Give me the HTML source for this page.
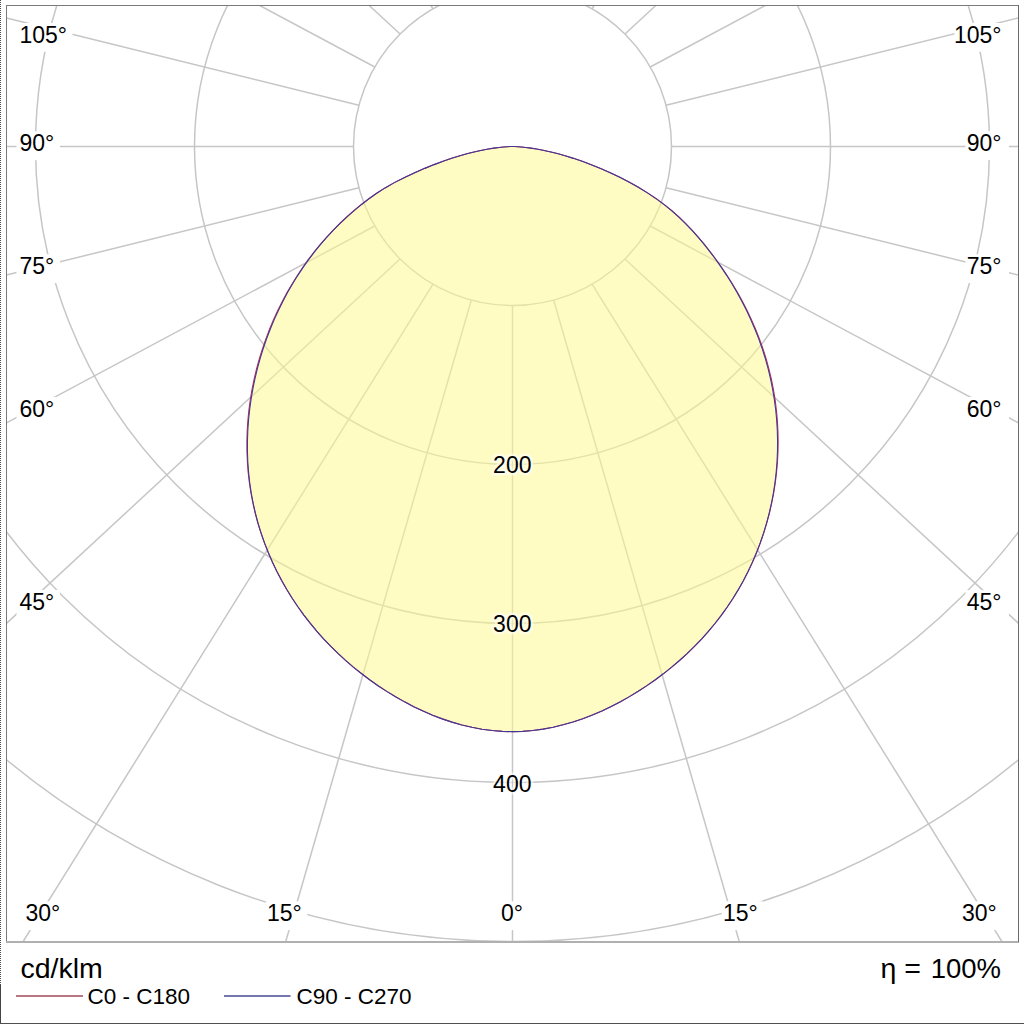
<!DOCTYPE html>
<html><head><meta charset="utf-8"><style>
html,body{margin:0;padding:0;background:#fff;width:1024px;height:1024px;overflow:hidden}
svg{display:block}
text{font-family:"Liberation Sans",sans-serif;font-size:23px;fill:#000}
text.v{stroke:#fff;stroke-width:5px;stroke-opacity:.6;paint-order:stroke;stroke-linejoin:round}
</style></head><body>
<svg width="1024" height="1024" viewBox="0 0 1024 1024">
<defs><clipPath id="fr"><rect x="6.5" y="5.5" width="1012.0" height="936.5"/></clipPath></defs>
<rect x="0" y="0" width="1024" height="1024" fill="#fff"/>
<g clip-path="url(#fr)">
<g fill="none" stroke="#c6c6c6" stroke-width="1.5">
<line x1="433.00" y1="8.80" x2="430.94" y2="5.50"/>
<line x1="400.07" y1="34.07" x2="369.21" y2="5.50"/>
<line x1="374.80" y1="67.00" x2="259.76" y2="5.50"/>
<line x1="358.92" y1="105.35" x2="6.50" y2="17.91"/>
<line x1="353.50" y1="146.50" x2="6.50" y2="146.50"/>
<line x1="358.92" y1="187.65" x2="6.50" y2="275.09"/>
<line x1="374.80" y1="226.00" x2="6.50" y2="422.89"/>
<line x1="400.07" y1="258.93" x2="6.50" y2="623.35"/>
<line x1="433.00" y1="284.20" x2="22.84" y2="942.00"/>
<line x1="471.35" y1="300.08" x2="285.59" y2="942.00"/>
<line x1="512.50" y1="305.50" x2="512.50" y2="942.00"/>
<line x1="553.65" y1="300.08" x2="739.41" y2="942.00"/>
<line x1="592.00" y1="284.20" x2="1002.16" y2="942.00"/>
<line x1="624.93" y1="258.93" x2="1018.50" y2="623.35"/>
<line x1="650.20" y1="226.00" x2="1018.50" y2="422.89"/>
<line x1="666.08" y1="187.65" x2="1018.50" y2="275.09"/>
<line x1="671.50" y1="146.50" x2="1018.50" y2="146.50"/>
<line x1="666.08" y1="105.35" x2="1018.50" y2="17.91"/>
<line x1="650.20" y1="67.00" x2="765.24" y2="5.50"/>
<line x1="624.93" y1="34.07" x2="655.79" y2="5.50"/>
<line x1="592.00" y1="8.80" x2="594.06" y2="5.50"/>
<circle cx="512.5" cy="146.5" r="159.0"/>
<circle cx="512.5" cy="146.5" r="318.0"/>
<circle cx="512.5" cy="146.5" r="477.0"/>
<circle cx="512.5" cy="146.5" r="636.0"/>
<circle cx="512.5" cy="146.5" r="795.0"/>
<circle cx="512.5" cy="146.5" r="954.0"/>
</g>
<polygon points="512.50,146.50 510.17,146.54 507.19,146.69 503.47,146.97 499.05,147.44 493.96,148.12 488.25,149.05 481.96,150.25 475.11,151.75 467.75,153.59 459.93,155.77 451.68,158.32 443.05,161.26 434.08,164.61 424.78,168.37 415.00,172.62 404.59,177.44 394.34,182.62 385.08,187.90 376.72,193.25 368.96,198.75 361.53,204.45 354.28,210.43 347.20,216.67 340.29,223.17 333.58,229.93 327.07,236.94 320.75,244.20 314.65,251.70 308.76,259.43 303.10,267.40 297.67,275.58 292.48,283.98 287.53,292.59 282.84,301.41 278.40,310.42 274.22,319.62 270.32,329.00 266.68,338.55 263.33,348.27 260.27,358.15 257.50,368.17 255.05,378.31 252.92,388.56 251.12,398.91 249.67,409.33 248.57,419.81 247.82,430.33 247.45,440.87 247.45,451.41 247.82,461.93 248.58,472.41 249.73,482.83 251.27,493.17 253.19,503.41 255.50,513.54 258.18,523.55 261.22,533.43 264.63,543.18 268.39,552.77 272.49,562.21 276.93,571.48 281.69,580.58 286.78,589.50 292.18,598.23 297.88,606.76 303.87,615.08 310.16,623.19 316.71,631.09 323.54,638.76 330.62,646.20 337.96,653.40 345.54,660.36 353.34,667.07 361.38,673.53 369.62,679.74 378.07,685.68 386.71,691.35 395.54,696.75 404.55,701.86 413.73,706.66 423.08,711.11 432.58,715.19 442.22,718.87 452.00,722.14 461.89,724.97 471.88,727.33 481.96,729.20 492.10,730.56 502.29,731.39 512.50,731.66 522.71,731.36 532.89,730.50 543.03,729.11 553.11,727.21 563.10,724.82 572.99,721.98 582.76,718.69 592.40,715.00 601.89,710.91 611.24,706.47 620.42,701.69 629.43,696.61 638.26,691.24 646.91,685.60 655.37,679.71 663.63,673.56 671.68,667.16 679.51,660.50 687.11,653.59 694.46,646.43 701.56,639.03 708.40,631.38 714.97,623.49 721.26,615.37 727.25,607.02 732.93,598.45 738.30,589.66 743.35,580.66 748.07,571.48 752.45,562.11 756.50,552.59 760.21,542.91 763.56,533.10 766.56,523.17 769.21,513.12 771.50,502.98 773.43,492.76 774.99,482.47 776.19,472.12 777.02,461.74 777.48,451.33 777.58,440.90 777.31,430.48 776.68,420.07 775.69,409.69 774.33,399.34 772.61,389.06 770.54,378.84 768.11,368.70 765.33,358.65 762.21,348.71 758.74,338.89 754.95,329.20 750.85,319.67 746.46,310.32 741.81,301.17 736.91,292.23 731.79,283.53 726.48,275.07 720.99,266.87 715.36,258.95 709.61,251.31 703.77,243.96 697.85,236.90 691.81,230.11 685.54,223.54 678.96,217.16 671.98,210.94 664.51,204.85 656.45,198.89 647.83,193.10 638.77,187.53 629.39,182.24 619.82,177.27 610.19,172.68 600.63,168.47 591.26,164.68 582.19,161.31 573.47,158.35 565.15,155.78 557.25,153.59 549.84,151.75 542.94,150.24 536.61,149.03 530.88,148.11 525.80,147.43 521.39,146.97 517.71,146.68 514.78,146.54 512.50,146.50" fill="#fffa92" fill-opacity="0.55" stroke="none"/>
<g fill="#fff">
<rect x="16.5" y="23.0" width="56.0" height="28.8"/>
<rect x="16.5" y="131.4" width="43.5" height="28.8"/>
<rect x="16.5" y="254.3" width="43.5" height="28.8"/>
<rect x="16.5" y="397.0" width="43.5" height="28.8"/>
<rect x="16.5" y="589.9" width="43.5" height="28.8"/>
<rect x="954.5" y="23.0" width="56.0" height="28.8"/>
<rect x="965.5" y="131.1" width="43.5" height="28.8"/>
<rect x="965.5" y="254.2" width="43.5" height="28.8"/>
<rect x="965.5" y="397.0" width="43.5" height="28.8"/>
<rect x="965.5" y="590.2" width="43.5" height="28.8"/>
<rect x="22.5" y="901.3" width="43.5" height="28.8"/>
<rect x="265.8" y="901.3" width="41.5" height="28.8"/>
<rect x="499.0" y="901.3" width="30.5" height="28.8"/>
<rect x="721.8" y="901.3" width="41.5" height="28.8"/>
<rect x="960.8" y="901.3" width="43.5" height="28.8"/>
</g>
<polyline points="512.50,146.50 510.17,146.54 507.19,146.69 503.47,146.97 499.05,147.44 493.96,148.12 488.25,149.05 481.96,150.25 475.11,151.76 467.75,153.59 459.93,155.77 451.68,158.32 443.04,161.26 434.07,164.61 424.77,168.37 414.99,172.63 404.57,177.45 394.31,182.63 385.04,187.91 376.66,193.27 368.88,198.77 361.43,204.49 354.15,210.48 347.03,216.74 340.09,223.26 333.34,230.05 326.77,237.09 320.39,244.38 314.23,251.92 308.27,259.70 302.54,267.72 297.04,275.96 291.77,284.42 286.76,293.10 282.00,301.97 277.50,311.05 273.28,320.30 269.34,329.73 265.69,339.33 262.33,349.09 259.27,358.99 256.53,369.01 254.11,379.16 252.02,389.40 250.28,399.72 248.89,410.11 247.86,420.54 247.19,431.01 246.89,441.49 246.96,451.97 247.41,462.43 248.23,472.84 249.44,483.21 251.03,493.49 253.00,503.68 255.34,513.76 258.05,523.73 261.13,533.58 264.56,543.29 268.33,552.86 272.45,562.28 276.90,571.54 281.67,580.62 286.77,589.53 292.17,598.25 297.87,606.77 303.87,615.09 310.15,623.20 316.71,631.10 323.54,638.76 330.62,646.20 337.96,653.40 345.54,660.36 353.34,667.08 361.38,673.53 369.62,679.74 378.07,685.68 386.71,691.35 395.54,696.75 404.55,701.86 413.73,706.66 423.08,711.11 432.58,715.19 442.22,718.87 452.00,722.14 461.89,724.97 471.88,727.33 481.96,729.20 492.10,730.56 502.29,731.39 512.50,731.66 522.71,731.36 532.89,730.50 543.03,729.11 553.11,727.21 563.10,724.82 572.99,721.98 582.76,718.69 592.40,715.00 601.89,710.91 611.24,706.47 620.42,701.69 629.43,696.61 638.26,691.24 646.91,685.60 655.37,679.71 663.63,673.57 671.68,667.16 679.51,660.50 687.11,653.59 694.46,646.44 701.57,639.03 708.41,631.39 714.98,623.50 721.26,615.38 727.25,607.04 732.94,598.47 738.31,589.68 743.37,580.70 748.10,571.53 752.50,562.18 756.56,552.68 760.28,543.03 763.66,533.25 766.69,523.35 769.37,513.34 771.69,503.25 773.67,493.08 775.28,482.85 776.54,472.56 777.44,462.24 777.97,451.89 778.14,441.52 777.95,431.16 777.39,420.80 776.46,410.46 775.17,400.15 773.50,389.89 771.48,379.68 769.08,369.54 766.33,359.49 763.21,349.52 759.74,339.66 755.93,329.93 751.79,320.36 747.36,310.95 742.65,301.74 737.69,292.74 732.50,283.97 727.11,275.45 721.56,267.20 715.85,259.22 710.04,251.53 704.13,244.14 698.15,237.05 692.05,230.23 685.74,223.63 679.12,217.23 672.11,210.99 664.61,204.89 656.52,198.92 647.89,193.12 638.81,187.54 629.42,182.25 619.85,177.28 610.21,172.68 600.64,168.48 591.27,164.68 582.20,161.31 573.48,158.35 565.15,155.78 557.26,153.59 549.84,151.75 542.95,150.24 536.61,149.03 530.88,148.11 525.80,147.43 521.39,146.97 517.71,146.68 514.78,146.54 512.50,146.50" fill="none" stroke="#c03050" stroke-width="1.1"/>
<polyline points="512.50,146.50 510.17,146.54 507.19,146.69 503.47,146.97 499.05,147.44 493.96,148.12 488.25,149.05 481.96,150.25 475.11,151.75 467.75,153.59 459.93,155.77 451.68,158.32 443.05,161.26 434.08,164.61 424.78,168.37 415.00,172.62 404.59,177.44 394.34,182.62 385.08,187.90 376.72,193.25 368.96,198.75 361.53,204.45 354.28,210.43 347.20,216.67 340.29,223.17 333.58,229.93 327.07,236.94 320.75,244.20 314.65,251.70 308.76,259.43 303.10,267.40 297.67,275.58 292.48,283.98 287.53,292.59 282.84,301.41 278.40,310.42 274.22,319.62 270.32,329.00 266.68,338.55 263.33,348.27 260.27,358.15 257.50,368.17 255.05,378.31 252.92,388.56 251.12,398.91 249.67,409.33 248.57,419.81 247.82,430.33 247.45,440.87 247.45,451.41 247.82,461.93 248.58,472.41 249.73,482.83 251.27,493.17 253.19,503.41 255.50,513.54 258.18,523.55 261.22,533.43 264.63,543.18 268.39,552.77 272.49,562.21 276.93,571.48 281.69,580.58 286.78,589.50 292.18,598.23 297.88,606.76 303.87,615.08 310.16,623.19 316.71,631.09 323.54,638.76 330.62,646.20 337.96,653.40 345.54,660.36 353.34,667.07 361.38,673.53 369.62,679.74 378.07,685.68 386.71,691.35 395.54,696.75 404.55,701.86 413.73,706.66 423.08,711.11 432.58,715.19 442.22,718.87 452.00,722.14 461.89,724.97 471.88,727.33 481.96,729.20 492.10,730.56 502.29,731.39 512.50,731.66 522.71,731.36 532.89,730.50 543.03,729.11 553.11,727.21 563.10,724.82 572.99,721.98 582.76,718.69 592.40,715.00 601.89,710.91 611.24,706.47 620.42,701.69 629.43,696.61 638.26,691.24 646.91,685.60 655.37,679.71 663.63,673.56 671.68,667.16 679.51,660.50 687.11,653.59 694.46,646.43 701.56,639.03 708.40,631.38 714.97,623.49 721.26,615.37 727.25,607.02 732.93,598.45 738.30,589.66 743.35,580.66 748.07,571.48 752.45,562.11 756.50,552.59 760.21,542.91 763.56,533.10 766.56,523.17 769.21,513.12 771.50,502.98 773.43,492.76 774.99,482.47 776.19,472.12 777.02,461.74 777.48,451.33 777.58,440.90 777.31,430.48 776.68,420.07 775.69,409.69 774.33,399.34 772.61,389.06 770.54,378.84 768.11,368.70 765.33,358.65 762.21,348.71 758.74,338.89 754.95,329.20 750.85,319.67 746.46,310.32 741.81,301.17 736.91,292.23 731.79,283.53 726.48,275.07 720.99,266.87 715.36,258.95 709.61,251.31 703.77,243.96 697.85,236.90 691.81,230.11 685.54,223.54 678.96,217.16 671.98,210.94 664.51,204.85 656.45,198.89 647.83,193.10 638.77,187.53 629.39,182.24 619.82,177.27 610.19,172.68 600.63,168.47 591.26,164.68 582.19,161.31 573.47,158.35 565.15,155.78 557.25,153.59 549.84,151.75 542.94,150.24 536.61,149.03 530.88,148.11 525.80,147.43 521.39,146.97 517.71,146.68 514.78,146.54 512.50,146.50" fill="none" stroke="#403898" stroke-width="1.1"/>
<text x="19.5" y="42.8" text-anchor="start">105°</text>
<text x="19.5" y="151.2" text-anchor="start">90°</text>
<text x="19.5" y="274.1" text-anchor="start">75°</text>
<text x="19.5" y="416.8" text-anchor="start">60°</text>
<text x="19.5" y="609.7" text-anchor="start">45°</text>
<text x="1001.5" y="42.8" text-anchor="end">105°</text>
<text x="1001.5" y="150.9" text-anchor="end">90°</text>
<text x="1001.5" y="274.0" text-anchor="end">75°</text>
<text x="1001.5" y="416.8" text-anchor="end">60°</text>
<text x="1001.5" y="610.0" text-anchor="end">45°</text>
<text x="25.5" y="921.1" text-anchor="start">30°</text>
<text x="284.3" y="921.1" text-anchor="middle">15°</text>
<text x="512.0" y="921.1" text-anchor="middle">0°</text>
<text x="740.3" y="921.1" text-anchor="middle">15°</text>
<text x="996.8" y="921.1" text-anchor="end">30°</text>
<text class="v" x="512.3" y="473.2" text-anchor="middle">200</text>
<text class="v" x="512.3" y="632.4" text-anchor="middle">300</text>
<text class="v" x="512.3" y="791.5" text-anchor="middle">400</text>
</g>
<rect x="6.5" y="5.5" width="1012" height="936" fill="none" stroke="#7a7a7a" stroke-width="1"/>
<line x1="6" y1="942" x2="1019" y2="942" stroke="#b0b0b0" stroke-width="2"/>
<line x1="1018.5" y1="5" x2="1018.5" y2="942" stroke="#6a6a6a" stroke-width="1"/>
<line x1="0.5" y1="0" x2="0.5" y2="985" stroke="#4a4a4a" stroke-width="1" stroke-dasharray="1,1"/>
<line x1="0.5" y1="985" x2="0.5" y2="1024" stroke="#444" stroke-width="1"/>
<line x1="0" y1="1023.5" x2="1024" y2="1023.5" stroke="#505050" stroke-width="1"/>
<text x="20.5" y="977.8" style="font-size:28.5px">cd/klm</text>
<line x1="16" y1="996" x2="83" y2="996" stroke="#a04858" stroke-width="1.3"/>
<text x="87.5" y="1004.2" style="font-size:22.5px">C0 - C180</text>
<line x1="224" y1="996" x2="290.5" y2="996" stroke="#484890" stroke-width="1.3"/>
<text x="296.5" y="1004.3" style="font-size:22.5px">C90 - C270</text>
<text x="880.5" y="977.7" style="font-size:28.5px">η =</text>
<text x="1001" y="977.7" text-anchor="end" style="font-size:27.5px">100%</text>
</svg>
</body></html>
